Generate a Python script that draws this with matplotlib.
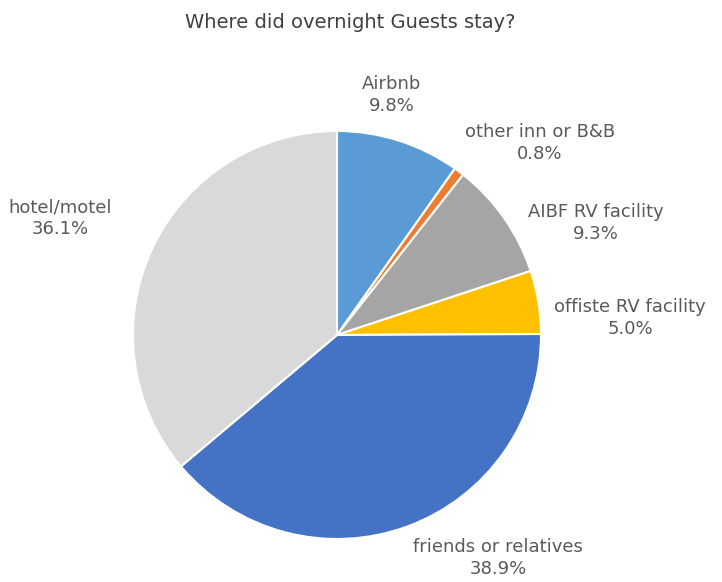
import matplotlib.pyplot as plt

# data
categories = ['Airbnb', 'other inn or B&B', 'AIBF RV facility',
              'offiste RV facility', 'friends or relatives', 'hotel/motel']
shares = [9.8, 0.8, 9.3, 5.0, 38.9, 36.1]
colors = ['#5B9BD5', '#ED7D31', '#A5A5A5', '#FFC000', '#4472C4', '#D9D9D9']

# label anchor points in pixel space (x, y from top)
label_pos = [(392, 95), (540, 143), (596, 223), (630, 318), (498, 558), (60, 218)]

W, H = 722, 582
fig = plt.figure(figsize=(W / 100, H / 100), dpi=100)
ax = fig.add_axes([0, 0, 1, 1])

cx, cy, r = 337, H - 335, 204
ax.pie(shares, colors=colors, startangle=90, counterclock=False,
       center=(cx, cy), radius=r, frame=True,
       wedgeprops=dict(edgecolor='white', linewidth=1.5))
ax.set_xlim(0, W)
ax.set_ylim(0, H)
ax.set_aspect('equal')
ax.axis('off')

txt = '#595959'
for name, val, (px, py) in zip(categories, shares, label_pos):
    ax.text(px, H - py, f'{name}\n{val:.1f}%', ha='center', va='center',
            fontsize=13, color=txt, linespacing=1.25)

ax.text(350, H - 22, 'Where did overnight Guests stay?', ha='center', va='center',
        fontsize=14, color='#404040')

fig.savefig('out.png', dpi=100, facecolor='white')
